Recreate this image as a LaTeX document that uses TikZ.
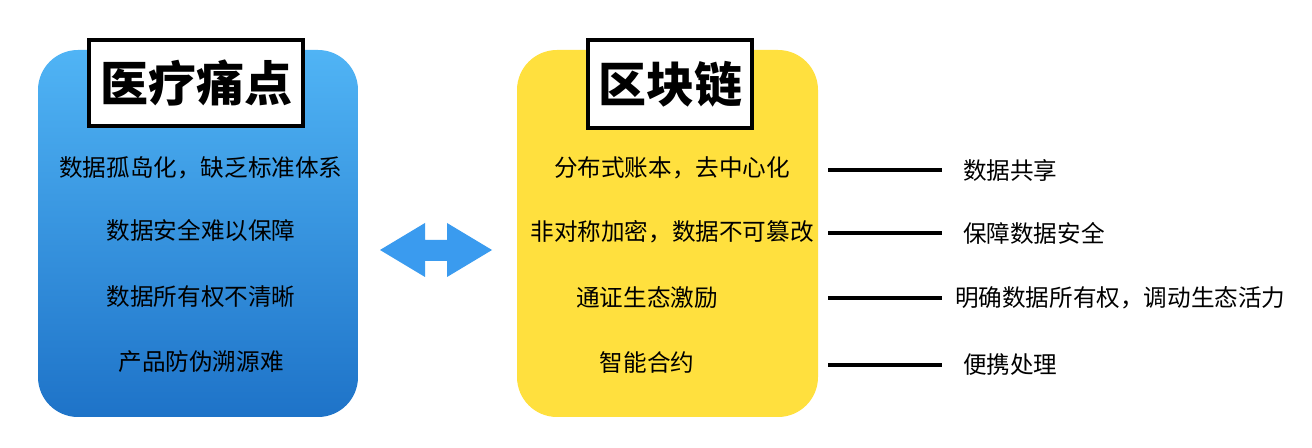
\documentclass[tikz,border=0pt]{standalone}
\usepackage{fontspec}
\newfontfamily\cjk{Noto Sans CJK SC}
\newfontfamily\cjkm{Noto Sans CJK SC Medium}
\definecolor{bluetop}{RGB}{80,180,245}
\definecolor{bluebot}{RGB}{30,115,200}
\definecolor{ybox}{RGB}{255,224,62}
\definecolor{arrowblue}{RGB}{58,155,239}
\begin{document}
\begin{tikzpicture}[x=0.5pt,y=-0.5pt,
  item/.style={font=\cjk\fontsize{11.8}{13}\selectfont,text=black},
  titlebox/.style={draw=black,line width=1.6pt,fill=white,font=\cjk\bfseries\fontsize{24}{28}\selectfont,inner sep=0pt},
  conn/.style={line width=1.6pt,black}]
\useasboundingbox (0,0) rectangle (1312,448);
\fill[white] (0,0) rectangle (1312,448);
\shade[top color=bluetop,bottom color=bluebot,rounded corners=20pt] (38,50) rectangle (358,417);
\fill[rounded corners=20pt,ybox] (517,50) rectangle (818,417);
\node[titlebox,minimum width=107pt,minimum height=43pt] (t1) at (196,83) {医疗痛点};
\node[titlebox,minimum width=82pt,minimum height=44pt] (t2) at (670,84) {区块链};
\node[item] (l1) at (201,168) {数据孤岛化，缺乏标准体系};
\node[item] (l2) at (201,230) {数据安全难以保障};
\node[item] (l3) at (201,297) {数据所有权不清晰};
\node[item] (l4) at (201,362) {产品防伪溯源难};
\fill[arrowblue] (380,250) -- (425,223) -- (425,240) -- (447,240) -- (447,223) -- (492,250) -- (447,277) -- (447,261) -- (425,261) -- (425,277) -- cycle;
\node[item] (m1) at (672,168) {分布式账本，去中心化};
\node[item] (m2) at (672,232) {非对称加密，数据不可篡改};
\node[item] (m3) at (647,298) {通证生态激励};
\node[item] (m4) at (647,362) {智能合约};
\coordinate (a1) at (828,170); \coordinate (b1) at (942,170);
\coordinate (a2) at (828,233); \coordinate (b2) at (942,233);
\coordinate (a3) at (828,298); \coordinate (b3) at (942,298);
\coordinate (a4) at (828,365); \coordinate (b4) at (942,365);
\foreach \i in {1,2,3,4} \draw[conn] (a\i) -- (b\i);
\node[item,anchor=west] (r1) at (956,170) {数据共享};
\node[item,anchor=west] (r2) at (956,233) {保障数据安全};
\node[item,anchor=west] (r3) at (948,298) {明确数据所有权，调动生态活力};
\node[item,anchor=west] (r4) at (956,365) {便携处理};
\end{tikzpicture}
\end{document}
